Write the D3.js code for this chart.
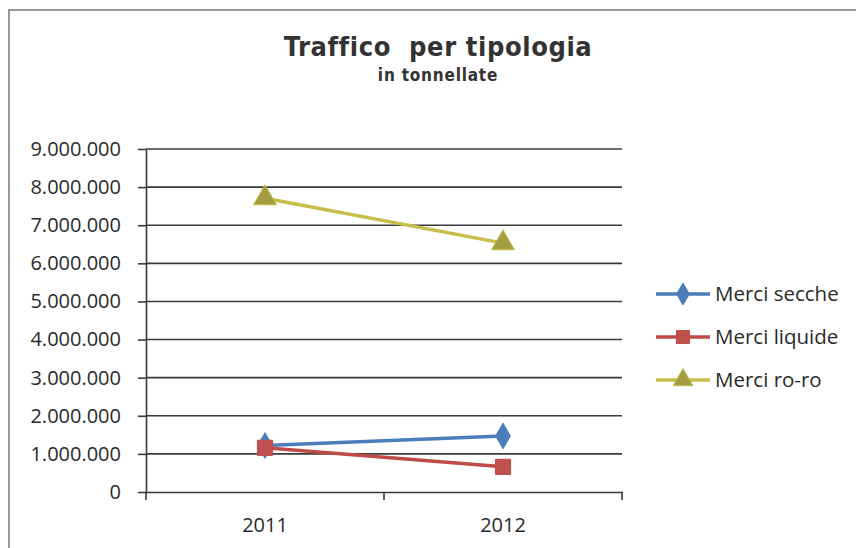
<!DOCTYPE html>
<html>
<head>
<meta charset="utf-8">
<script src="https://cdn.jsdelivr.net/npm/d3@7"></script>
<style>
  body { margin: 0; background: #fff; }
  text { font-family: "Open Sans", "Liberation Sans", sans-serif; fill: #2a2a2a; }
</style>
</head>
<body>
<svg width="856" height="548"></svg>
<script>
// data
const years = ["2011", "2012"];
const seriesNames = ["Merci secche", "Merci liquide", "Merci ro-ro"];
const secche = [1220000, 1470000];
const liquide = [1160000, 660000];
const roro = [7710000, 6530000];
const yTicks = [0, 1000000, 2000000, 3000000, 4000000, 5000000, 6000000, 7000000, 8000000, 9000000];

const series = [
  {name: seriesNames[0], values: secche, color: "#4a7ebb", fill: "#4a7ebb", shape: d3.symbolDiamond},
  {name: seriesNames[1], values: liquide, color: "#be4b48", fill: "#c0504d", shape: d3.symbolSquare},
  {name: seriesNames[2], values: roro, color: "#c6be4a", fill: "#a39c42", shape: d3.symbolTriangle}
];

const svg = d3.select("svg");

// frame
svg.append("rect").attr("x", 9).attr("y", 10).attr("width", 850).attr("height", 545)
  .style("fill", "none").style("stroke", "#777").style("stroke-width", "1.5px");

// titles
svg.append("text").attr("x", 438).attr("y", 56).attr("text-anchor", "middle")
  .style("font-family", "'DejaVu Sans Condensed', sans-serif").style("font-weight", "bold")
  .style("font-size", "27px").style("letter-spacing", "0.6px").style("white-space", "pre")
  .style("fill", "#333").text("Traffico  per tipologia");
svg.append("text").attr("x", 438).attr("y", 81).attr("text-anchor", "middle")
  .style("font-family", "'DejaVu Sans Condensed', sans-serif").style("font-weight", "bold")
  .style("font-size", "17px").style("letter-spacing", "0.8px").style("fill", "#333").text("in tonnellate");

const x = d3.scaleBand().domain(years).range([146, 622]);
const y = d3.scaleLinear().domain([0, 9000000]).range([492, 149]);
const fmt = d => d3.format(",")(d).replace(/,/g, ".");

// grid
svg.append("g").selectAll("line").data(yTicks.slice(1)).enter().append("line")
  .attr("x1", 146).attr("x2", 622).attr("y1", d => y(d)).attr("y2", d => y(d))
  .style("stroke", "#3a3a3a").style("stroke-width", "1.6px");

// y axis
const yAxis = svg.append("g").attr("transform", "translate(146,0)")
  .call(d3.axisLeft(y).tickValues(yTicks).tickFormat(fmt).tickSize(8).tickSizeOuter(0));
yAxis.select(".domain").style("stroke", "#3a3a3a").style("stroke-width", "1.6px");
yAxis.selectAll(".tick line").style("stroke", "#3a3a3a").style("stroke-width", "1.6px");
yAxis.selectAll("text").style("font-size", "20px").attr("x", -25);

// x axis
const xAxis = svg.append("g").attr("transform", "translate(0,492)")
  .call(d3.axisBottom(x).tickSize(0).tickSizeOuter(0));
xAxis.select(".domain").style("stroke", "#3a3a3a").style("stroke-width", "1.6px");
xAxis.selectAll("text").style("font-size", "20px").attr("y", 26).attr("dy", "0.71em");
// category separators
svg.append("g").selectAll("line").data(years.concat(["end"])).enter().append("line")
  .attr("x1", (d, i) => 146 + i * x.bandwidth()).attr("x2", (d, i) => 146 + i * x.bandwidth())
  .attr("y1", 492).attr("y2", 500)
  .style("stroke", "#3a3a3a").style("stroke-width", "1.6px");

const line = d3.line().x((d, i) => x(years[i]) + x.bandwidth() / 2).y(d => y(d));

series.forEach(s => {
  svg.append("path").datum(s.values).attr("d", line)
    .style("fill", "none").style("stroke", s.color).style("stroke-width", "3.5px");
  svg.append("g").selectAll("path").data(s.values).enter().append("path")
    .attr("transform", (d, i) => "translate(" + (x(years[i]) + x.bandwidth() / 2) + "," + y(d) + ")")
    .attr("d", d3.symbol().type(s.shape).size(s.shape === d3.symbolDiamond ? 190 : 230))
    .style("fill", s.fill).style("stroke", s.color).style("stroke-width", "1px");
});

// legend
const leg = svg.append("g").selectAll("g").data(series).enter().append("g")
  .attr("transform", (d, i) => "translate(656," + (294 + i * 43) + ")");
leg.append("line").attr("x1", 0).attr("x2", 54)
  .style("stroke", d => d.color).style("stroke-width", "3.5px");
leg.append("path").attr("transform", "translate(27,0)")
  .attr("d", d => d3.symbol().type(d.shape).size(d.shape === d3.symbolDiamond ? 140 : 170)())
  .style("fill", d => d.fill).style("stroke", d => d.color);
leg.append("text").attr("x", 59).attr("dy", "0.35em").style("font-size", "20.5px").text(d => d.name);
</script>
</body>
</html>
